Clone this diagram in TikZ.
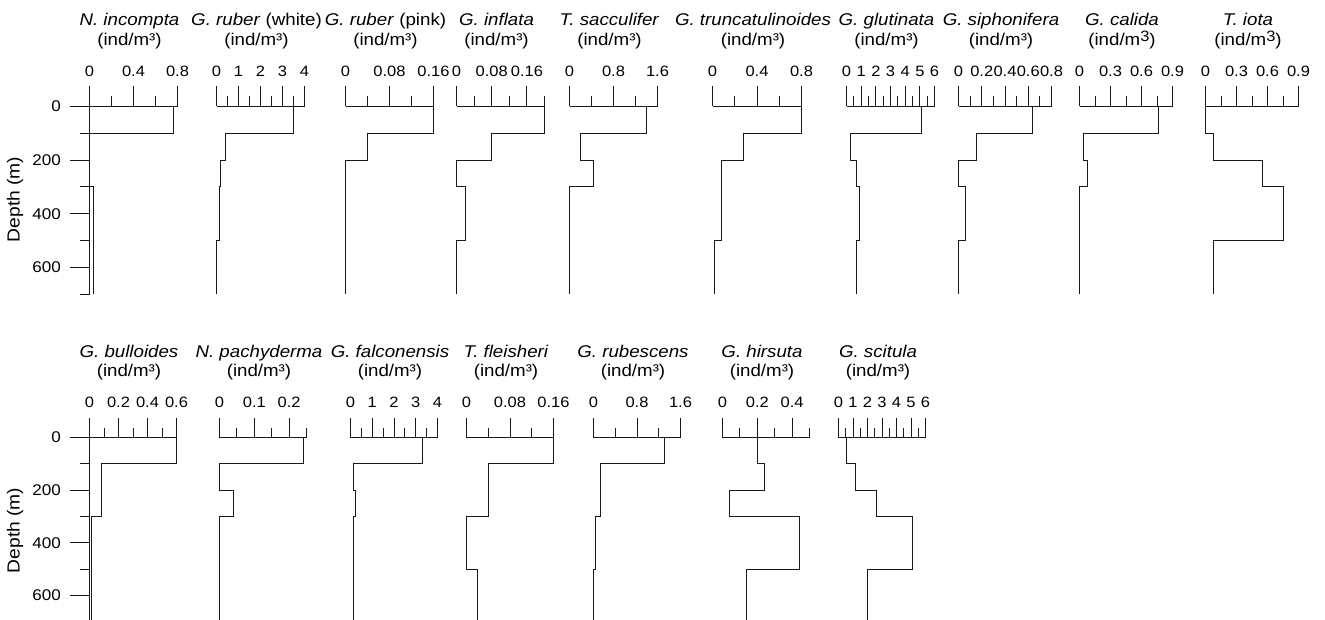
\documentclass[tikz,border=0pt]{standalone}
\usepackage{fontspec}
\setmainfont{Liberation Sans}[FakeStretch=1.1]
\newcommand{\unitsm}{(ind/m³)}
\newcommand{\unitbg}{(ind/m\raisebox{4.3pt}{\fontsize{15}{15}\selectfont 3})}

\begin{document}
\begin{tikzpicture}
[x=1pt,y=-1pt,
axis/.style={draw=black!90, line width=1pt},
profile/.style={draw=black!90, line width=1pt},
title/.style={inner sep=0pt, anchor=base, font=\fontsize{17}{20}\selectfont},
scalelab/.style={inner sep=0pt, anchor=base, font=\fontsize{15}{18}\selectfont},
depthlab/.style={inner sep=0pt, anchor=east, font=\fontsize{15.5}{18}\selectfont}]
\useasboundingbox (0,0) rectangle (1325,620);

% depth axes, one per row
\foreach \r/\yo/\s in {0/106.5/0.268, 1/437.5/0.263}{
  \draw[axis] (89.5,\yo) -- (89.5,\yo+700*\s);
  \foreach \d in {0,200,400,600}{
    \draw[axis] (89.5,\yo+\d*\s) -- (69.5,\yo+\d*\s);
    \node[depthlab] (dep\r-\d) at (61,\yo+\d*\s) {\d};
  }
  \foreach \d in {100,300,500,700}
    \draw[axis] (89.5,\yo+\d*\s) -- (79.5,\yo+\d*\s);
  \node[depthlab, rotate=90, anchor=center, font=\fontsize{17.5}{20}\selectfont] (depth\r) at (15,\yo+93) {Depth (m)};
}

% panels: row / x0 / width / max value / intervals / labels / values 0-100,100-200,200-300,300-500,500-700 / title / unit
\foreach \r/\xo/\w/\vm/\n/\labs/\va/\vb/\vc/\vd/\ve/\ttl/\unt [count=\k] in {
  0/89.5/88/0.8/4/{0,0.4,0.8}/0.76/0.004/0.004/0.04/0.04/{\textit{N. incompta}}/\unitsm,
  0/216.5/88/4/8/{0,1,2,3,4}/3.5/0.41/0.18/0.12/0/{\textit{G. ruber} (white)}/\unitsm,
  0/345.5/88/0.16/4/{0,0.08,0.16}/0.16/0.04/0/0/0/{\textit{G. ruber} (pink)}/\unitsm,
  0/456.5/88/0.2/5/{0,0.08,0.16}/0.2/0.08/0/0.021/0/{\textit{G. inflata}}/\unitsm,
  0/569.5/88/1.6/4/{0,0.8,1.6}/1.4/0.2/0.44/0/0/{\textit{T. sacculifer}}/\unitsm,
  0/712.5/89/0.8/4/{0,0.4,0.8}/0.8/0.28/0.08/0.08/0.02/{\textit{G. truncatulinoides}}/\unitsm,
  0/846.5/88/6/12/{0,1,2,3,4,5,6}/5.12/0.27/0.7/0.88/0.65/{\textit{G. glutinata}}/\unitsm,
  0/958.5/93/0.8/8/{0,0.2,0.4,0.6,0.8}/0.64/0.158/0/0.06/0/{\textit{G. siphonifera}}/\unitsm,
  0/1079.5/93/0.9/6/{0,0.3,0.6,0.9}/0.76/0.042/0.08/0/0/{\textit{G. calida}}/\unitbg,
  0/1205.5/93/0.9/6/{0,0.3,0.6,0.9}/0/0.077/0.556/0.755/0.077/{\textit{T. iota}}/\unitbg,
  1/89.5/87/0.6/6/{0,0.2,0.4,0.6}/0.6/0.08/0.08/0.016/0.016/{\textit{G. bulloides}}/\unitsm,
  1/219.5/87/0.25/5/{0,0.1,0.2}/0.24/0/0.04/0/0/{\textit{N. pachyderma}}/\unitsm,
  1/350.5/87/4/8/{0,1,2,3,4}/3.31/0.12/0.24/0.12/0.12/{\textit{G. falconensis}}/\unitsm,
  1/466.5/87/0.16/4/{0,0.08,0.16}/0.16/0.04/0.04/0/0.02/{\textit{T. fleisheri}}/\unitsm,
  1/593.5/87/1.6/4/{0,0.8,1.6}/1.31/0.12/0.12/0.04/0/{\textit{G. rubescens}}/\unitsm,
  1/722.5/87/0.5/5/{0,0.2,0.4}/0.2/0.24/0.038/0.44/0.14/{\textit{G. hirsuta}}/\unitsm,
  1/838.5/87/6/12/{0,1,2,3,4,5,6}/0.58/1.14/2.63/5.08/1.99/{\textit{G. scitula}}/\unitsm}{
  \pgfmathsetmacro\yo{\r==0 ? 106.5 : 437.5}
  \pgfmathsetmacro\s{\r==0 ? 0.268 : 0.263}
  \begin{scope}[shift={(\xo,\yo)}]
    \draw[axis] (0,0) -- (\w,0);
    \foreach \tk in {0,...,\n}{
      \pgfmathsetmacro\len{mod(\tk,2)==0 ? 20 : 10}
      \draw[axis] (\tk*\w/\n,0) -- ++(0,-\len);
    }
    \foreach \lb [count=\jj from 0] in \labs
      \node[scalelab] (lab\k-\jj) at (2*\jj*\w/\n,-30) {\lb};
    \draw[profile] (\va*\w/\vm,0) -- (\va*\w/\vm,100*\s) -- (\vb*\w/\vm,100*\s)
      -- (\vb*\w/\vm,200*\s) -- (\vc*\w/\vm,200*\s) -- (\vc*\w/\vm,300*\s)
      -- (\vd*\w/\vm,300*\s) -- (\vd*\w/\vm,500*\s) -- (\ve*\w/\vm,500*\s)
      -- (\ve*\w/\vm,700*\s);
    \node[title] (ttl\k) at (\w/2-4,-80.5) {\ttl};
    \node[title] (unt\k) at (\w/2-4,-61) {\unt};
  \end{scope}
}
\end{tikzpicture}
\end{document}
